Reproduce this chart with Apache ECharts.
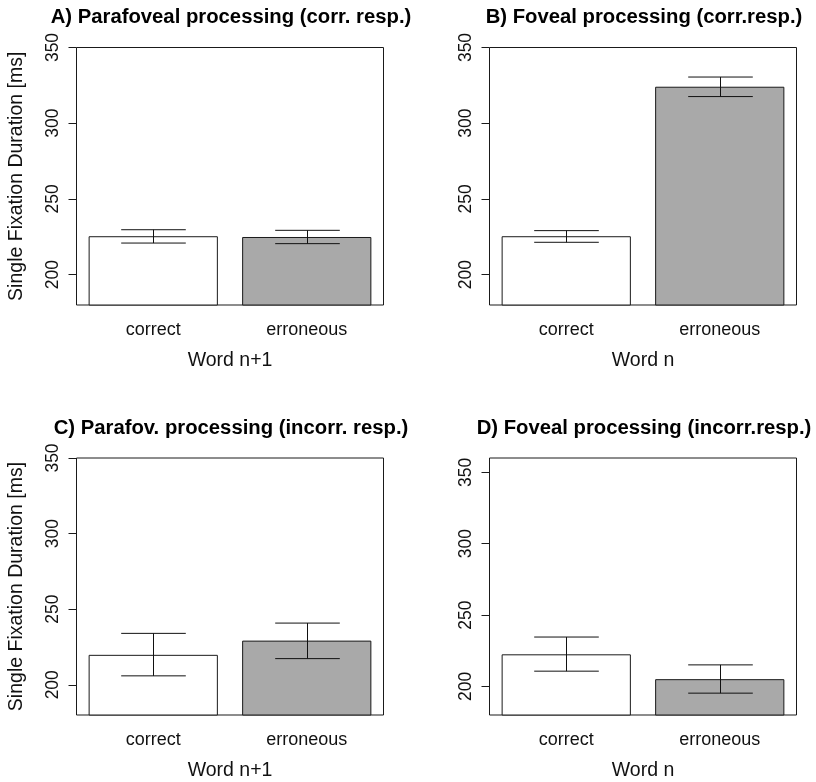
<!DOCTYPE html>
<html>
<head>
<meta charset="utf-8">
<script src="https://cdn.jsdelivr.net/npm/echarts@6/dist/echarts.min.js"></script>
<style>
  html, body { margin: 0; padding: 0; background: #fff; }
  #chart { width: 816px; height: 782px; }
</style>
</head>
<body>
<div id="chart"></div>
<script>
// Single fixation durations (ms): bar means with error-bar limits per condition
const categories = ['correct', 'erroneous'];
const yTicks = [200, 250, 300, 350];

const titles = [
  'A) Parafoveal processing (corr. resp.)',
  'B) Foveal processing (corr.resp.)',
  'C) Parafov. processing (incorr. resp.)',
  'D) Foveal processing (incorr.resp.)'
];
const xNames = ['Word n+1', 'Word n', 'Word n+1', 'Word n'];
const yName = 'Single Fixation Duration [ms]';
const yMin = [180, 180, 180, 180];
const yMax = [350, 350, 350, 360];

const meanA = [225.4, 224.9];
const lowA  = [220.9, 220.5];
const highA = [229.7, 229.3];

const meanB = [225.4, 324.1];
const lowB  = [221.4, 317.6];
const highB = [229.1, 330.5];

const meanC = [219.8, 229.2];
const lowC  = [205.9, 217.3];
const highC = [234.0, 240.8];

const meanD = [222.5, 205.1];
const lowD  = [210.7, 195.3];
const highD = [234.6, 215.1];

const means = [meanA, meanB, meanC, meanD];
const lows  = [lowA, lowB, lowC, lowD];
const highs = [highA, highB, highC, highD];

// plot boxes (px)
const boxes = [
  { left: 76.5,  top: 47.5,  width: 307, height: 257.5 },
  { left: 489.5, top: 47.5,  width: 307, height: 257.5 },
  { left: 76.5,  top: 458,   width: 307, height: 258 },
  { left: 489.5, top: 458,   width: 307, height: 258 }
];
const fillColors = ['#ffffff', '#a9a9a9'];
const FONT = 'Liberation Sans, Arial, Helvetica, sans-serif';
const BAR_RATIO = 0.842;

const chart = echarts.init(document.getElementById('chart'), null, { renderer: 'canvas' });

const grid = [], xAxis = [], yAxis = [], series = [], title = [];

boxes.forEach((b, i) => {
  grid.push({
    left: b.left, top: b.top, width: b.width, height: b.height,
    show: true, borderColor: '#1a1a1a', borderWidth: 1, backgroundColor: 'transparent'
  });
  title.push({
    text: titles[i],
    left: b.left + b.width / 2 - 4,
    top: b.top - 45,
    textAlign: 'center',
    textStyle: { fontFamily: FONT, fontSize: 20.3, fontWeight: 'bold', color: '#000' }
  });
  xAxis.push({
    type: 'category', gridIndex: i, data: categories,
    axisLine: { show: false }, axisTick: { show: false },
    axisLabel: { fontFamily: FONT, fontSize: 18, color: '#111', margin: 16 },
    name: xNames[i], nameLocation: 'middle', nameGap: 46,
    nameTextStyle: { fontFamily: FONT, fontSize: 19.5, color: '#111' }
  });
  yAxis.push({
    type: 'value', gridIndex: i, min: yMin[i], max: yMax[i],
    splitLine: { show: false },
    axisLine: { show: false },
    axisTick: { show: true, length: 8, customValues: yTicks, lineStyle: { color: '#1a1a1a', width: 1 } },
    axisLabel: { customValues: yTicks, rotate: 90, fontFamily: FONT, fontSize: 17.5, color: '#111', margin: 14 },
    name: (i % 2 === 0) ? yName : '',
    nameLocation: 'middle', nameRotate: 90, nameGap: 50,
    nameTextStyle: { fontFamily: FONT, fontSize: 19.5, color: '#111' }
  });
  series.push({
    type: 'bar', xAxisIndex: i, yAxisIndex: i,
    barWidth: (BAR_RATIO * 100) + '%',
    data: means[i].map((v, k) => ({
      value: v,
      itemStyle: { color: fillColors[k], borderColor: '#1a1a1a', borderWidth: 1 }
    })),
    silent: true
  });
  series.push({
    type: 'custom', xAxisIndex: i, yAxisIndex: i, z: 5, silent: true,
    data: categories.map((c, k) => [k, lows[i][k], highs[i][k]]),
    renderItem: (params, api) => {
      const k = api.value(0);
      const lo = api.coord([k, api.value(1)]);
      const hi = api.coord([k, api.value(2)]);
      const half = api.size([1, 0])[0] * BAR_RATIO / 4;
      const x = Math.round(lo[0]) + 0.5;
      const st = { stroke: '#111', lineWidth: 1 };
      return {
        type: 'group',
        children: [
          { type: 'line', shape: { x1: x, y1: lo[1], x2: x, y2: hi[1] }, style: st },
          { type: 'line', shape: { x1: x - half, y1: lo[1], x2: x + half, y2: lo[1] }, style: st },
          { type: 'line', shape: { x1: x - half, y1: hi[1], x2: x + half, y2: hi[1] }, style: st }
        ]
      };
    }
  });
});

chart.setOption({
  animation: false,
  backgroundColor: '#fff',
  title, grid, xAxis, yAxis, series
});
</script>
</body>
</html>
